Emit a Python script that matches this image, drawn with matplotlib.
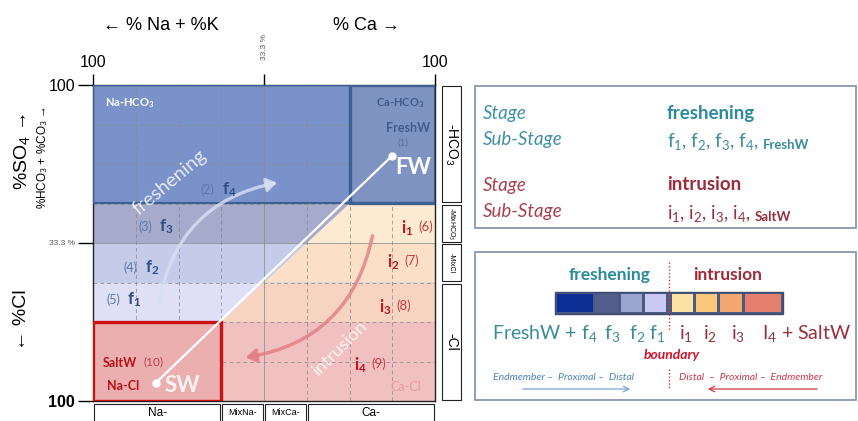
import matplotlib.pyplot as plt
from matplotlib.patches import Rectangle, Polygon, FancyArrowPatch

plt.rcParams['font.family'] = ['Lato', 'DejaVu Sans']
plt.rcParams['mathtext.fontset'] = 'custom'
plt.rcParams['mathtext.rm'] = 'Lato'
plt.rcParams['mathtext.it'] = 'Lato:italic'
plt.rcParams['mathtext.bf'] = 'Lato:bold'

W, H = 858, 421
ARIAL = ['Liberation Sans', 'DejaVu Sans']

# classification of the diagram (in eighths of each side)
band_edges = [0, 2, 3, 4, 5, 8]
band_left = ['#efbdbd', '#dfe0f5', '#c4cce9', '#a6aacb', '#7a92c9']
band_right = ['#f1c1c1', '#f7d3c2', '#fbe0c7', '#fdead2', '#7a92c9']
cation_names = ['Na-', 'MixNa-', 'MixCa-', 'Ca-']
cation_edges = [0, 3, 4, 5, 8]
anion_names = ['-Cl', '-MixCl', '-MixHCO$_3$', '-HCO$_3$']
anion_edges = [0, 3, 4, 5, 8]
anion_size = [10, 5, 5, 10]

sw_point = (1.47, 0.46)
fw_point = (6.99, 6.2)

# sub-stages: letter, index, sample number
fresh_idx = ['1', '2', '3', '4']
fresh_num = ['(5)', '(4)', '(3)', '(2)']
fresh_xy = [(0.80, 2.56), (1.22, 3.37), (1.55, 4.42), (3.02, 5.34)]
intr_idx = ['1', '2', '3', '4']
intr_num = ['(6)', '(7)', '(8)', '(9)']
intr_xy = [(7.2, 4.38), (6.87, 3.52), (6.68, 2.38), (6.1, 0.91)]

# stage colour scale (bottom-right panel)
scale_colors = ['#0b2f95', '#535e8c', '#9ca5cf', '#c9c9f4', '#fde1a4', '#fbc87b', '#f3a772', '#e5806f']
scale_cells = [(557, 593), (595, 618), (621, 642), (645, 666),
               (672, 693), (696, 717), (720, 742), (745, 781)]
scale_labels = ['f$_3$', 'f$_2$', 'f$_1$', 'i$_1$', 'i$_2$', 'i$_3$']
scale_label_x = [612, 637, 657, 686, 710, 738]

TEAL = '#3a8c9c'
WINE = '#98303f'


def boundary_x(y):
    # fresh / salt side of the diagram
    return y + 1


fig = plt.figure(figsize=(W / 100, H / 100), dpi=100)
ax = fig.add_axes([93 / W, 1 - 401 / H, 342 / W, 316 / H])
ax.set_xlim(0, 8)
ax.set_ylim(0, 8)

for i in range(len(band_left)):
    y0, y1 = band_edges[i], band_edges[i + 1]
    ax.add_patch(Rectangle((0, y0), 8, y1 - y0, fc=band_left[i], ec='none', zorder=0))
    if 0 < i < len(band_left) - 1:
        ax.add_patch(Polygon([(boundary_x(y0), y0), (boundary_x(y1), y1), (8, y1), (8, y0)],
                             fc=band_right[i], ec='none', zorder=0))
    elif i == 0:
        ax.add_patch(Rectangle((3, y0), 5, y1 - y0, fc=band_right[i], ec='none', zorder=0))

for k in range(1, 8):
    ls = '-' if k == 4 else (0, (4, 3))
    ax.axvline(k, color='#8a8a8a', lw=0.7, ls=ls, alpha=0.75, zorder=1)
    ax.axhline(k, color='#8a8a8a', lw=0.7, ls=ls, alpha=0.75, zorder=1)

# end-member boxes
ax.add_patch(Rectangle((0, 5), 8, 3, fc='none', ec='#3d6193', lw=1.5, zorder=3))
ax.add_patch(Rectangle((6, 5), 2, 3, fc='#7f93c3', ec='#3d6193', lw=2.4, zorder=3))
ax.add_patch(Rectangle((0, 0), 3, 2, fc='#ebafaf', ec='#cc1111', lw=2.4, zorder=3))

# mixing line SW -> FW
ax.plot([sw_point[0], fw_point[0]], [sw_point[1], fw_point[1]], color='white', lw=1.6, zorder=4)
ax.plot([sw_point[0], fw_point[0]], [sw_point[1], fw_point[1]], 'o', color='white', ms=5, zorder=5)

# evolution arrows
ax.add_patch(FancyArrowPatch((1.53, 2.4), (4.37, 5.54), connectionstyle='arc3,rad=-0.35',
                             arrowstyle='-|>,head_length=6,head_width=4', color='#d6e2f5',
                             lw=2.4, alpha=0.8, zorder=4))
ax.add_patch(FancyArrowPatch((6.55, 4.25), (3.51, 1.09), connectionstyle='arc3,rad=-0.35',
                             arrowstyle='-|>,head_length=6,head_width=4', color='#e27c85',
                             lw=2.5, alpha=0.8, zorder=4))

ax.text(1.8, 5.54, 'freshening', rotation=40, color='white', alpha=0.8, fontsize=14,
        ha='center', va='center', zorder=6)
ax.text(5.78, 1.34, 'intrusion', rotation=45, color='white', alpha=0.8, fontsize=13,
        ha='center', va='center', zorder=6)

ax.text(0.28, 7.54, r'Na-HCO$_\mathbf{3}$', color='white', fontsize=8, fontweight='bold', va='center', zorder=6)
ax.text(7.75, 7.54, r'Ca-HCO$_\mathbf{3}$', color='#3d5d91', fontsize=8, fontweight='bold', ha='right', va='center', zorder=6)
ax.text(7.88, 6.91, 'FreshW', color='#3d5d91', fontsize=9, fontweight='bold', ha='right', va='center', zorder=6)
ax.text(7.26, 6.53, '(1)', color='#5070a0', fontsize=7, ha='center', va='center', zorder=6)
ax.text(7.48, 5.9, 'FW', color='white', fontsize=16, fontweight='bold', ha='center', va='center', zorder=6)
ax.text(0.23, 0.96, 'SaltW', color='#b5121b', fontsize=9, fontweight='bold', va='center', zorder=6)
ax.text(1.17, 0.98, '(10)', color='#c0404a', fontsize=8.5, va='center', zorder=6)
ax.text(0.33, 0.38, 'Na-Cl', color='#b5121b', fontsize=9, fontweight='bold', va='center', zorder=6)
ax.text(2.1, 0.4, 'SW', color='white', alpha=0.85, fontsize=16, fontweight='bold', ha='center', va='center', zorder=6)
ax.text(7.32, 0.35, 'Ca-Cl', color='#e59aa3', fontsize=9, ha='center', va='center', zorder=6)

for idx, num, (x, y) in zip(fresh_idx, fresh_num, fresh_xy):
    ax.text(x, y, r'f$_\mathbf{%s}$' % idx, color='#2f4f86', fontsize=12, fontweight='bold',
            va='center', zorder=6)
    ax.text(x - 0.17, y, num, color='#5b7bab', fontsize=9, ha='right', va='center', zorder=6)
for idx, num, (x, y) in zip(intr_idx, intr_num, intr_xy):
    ax.text(x, y, r'i$_\mathbf{%s}$' % idx, color='#c0151f', fontsize=12, fontweight='bold',
            va='center', zorder=6)
    ax.text(x + 0.42, y + 0.04, num, color='#c63a40', fontsize=9.5, va='center', zorder=6)

# classification boxes outside the square
for i, name in enumerate(anion_names):
    y0, y1 = anion_edges[i], anion_edges[i + 1]
    ax.add_patch(Rectangle((8.16, y0 + 0.03), 0.44, y1 - y0 - 0.06, fc='white', ec='#222222',
                           lw=0.8, clip_on=False))
    ax.text(8.38, (y0 + y1) / 2, name, rotation=-90, fontsize=anion_size[i], family=ARIAL,
            ha='center', va='center', clip_on=False)
for i, name in enumerate(cation_names):
    x0, x1 = cation_edges[i], cation_edges[i + 1]
    ax.add_patch(Rectangle((x0 + 0.02, -0.75), x1 - x0 - 0.04, 0.67, fc='white', ec='#222222',
                           lw=0.8, clip_on=False))
    ax.text((x0 + x1) / 2, -0.3, name, fontsize=8.5 if i in (0, 3) else 6.5, family=ARIAL,
            ha='center', va='center', clip_on=False)

# axes and ticks
for s in ax.spines.values():
    s.set_color('#222222')
    s.set_linewidth(1.0)
ax.set_yticks([0, 4, 8], ['100', '33.3 %', '100'])
ax.tick_params(axis='y', length=11, width=1, pad=2, labelsize=11.5)
ylabs = ax.get_yticklabels()
for t in ylabs:
    t.set_family(ARIAL)
ylabs[0].set_fontweight('bold')
ylabs[1].set_fontsize(6)
ylabs[1].set_color('#555555')
ax.xaxis.tick_top()
ax.set_xticks([0, 4, 8], ['100', '', '100'])
ax.tick_params(axis='x', length=8, width=1, pad=3, labelsize=11.5)
for t in ax.get_xticklabels():
    t.set_family(ARIAL)
ax.annotate('33.3 %', xy=(4, 1), xycoords=('data', 'axes fraction'), xytext=(0, 27),
            textcoords='offset points', rotation=90, fontsize=6, color='#555555',
            family=ARIAL, ha='center', va='center')

# overlay in pixel units for titles and the two side panels
ov = fig.add_axes([0, 0, 1, 1])
ov.set_xlim(0, W)
ov.set_ylim(H, 0)
ov.axis('off')

ov.text(161, 25, '← % Na + %K', fontsize=13, family=ARIAL, ha='center', va='center')
ov.text(366, 25, '% Ca →', fontsize=13, family=ARIAL, ha='center', va='center')
ov.text(22, 151, '%SO$_4$ →', fontsize=14, family=ARIAL, rotation=90, ha='center', va='center')
ov.text(43, 158, '%HCO$_3$ + %CO$_3$ →', fontsize=8.5, family=ARIAL, rotation=90, ha='center', va='center')
ov.text(22, 320, '← %Cl', fontsize=14, family=ARIAL, rotation=90, ha='center', va='center')

# stage panel
ov.add_patch(Rectangle((475, 86), 381, 142, fc='white', ec='#8797ae', lw=1.3))
ov.text(483, 113, 'Stage', style='italic', color='#4190a5', fontsize=13.5, va='center')
ov.text(483, 140, 'Sub-Stage', style='italic', color='#4190a5', fontsize=13.5, va='center')
ov.text(667, 113, 'freshening', fontweight='bold', color='#2b8b9c', fontsize=13.5, va='center')
t1 = ov.text(667, 141, 'f$_1$, f$_2$, f$_3$, f$_4$,', color=TEAL, fontsize=13.5, va='center')
ov.annotate('FreshW', xy=(1, 0.3), xycoords=t1, xytext=(3, 0), textcoords='offset points',
            fontweight='bold', color=TEAL, fontsize=9.5, va='center')
ov.text(483, 185, 'Stage', style='italic', color='#a84050', fontsize=13.5, va='center')
ov.text(483, 212, 'Sub-Stage', style='italic', color='#a84050', fontsize=13.5, va='center')
ov.text(667, 185, 'intrusion', fontweight='bold', color='#9e2a3a', fontsize=13.5, va='center')
t2 = ov.text(667, 213, 'i$_1$, i$_2$, i$_3$, i$_4$,', color=WINE, fontsize=13.5, va='center')
ov.annotate('SaltW', xy=(1, 0.3), xycoords=t2, xytext=(3, 0), textcoords='offset points',
            fontweight='bold', color=WINE, fontsize=9.5, va='center')

# boundary panel
ov.add_patch(Rectangle((475, 252), 381, 148, fc='white', ec='#8797ae', lw=1.3))
ov.text(610, 275, 'freshening', fontweight='bold', color='#2b8b9c', fontsize=12.5, ha='center', va='center')
ov.text(728, 275, 'intrusion', fontweight='bold', color='#9e2a3a', fontsize=12.5, ha='center', va='center')
ov.add_patch(Rectangle((555, 292), 228, 22, fc='#4b5a80', ec='#3d4a70', lw=1))
for c, (x0, x1) in zip(scale_colors, scale_cells):
    ov.add_patch(Rectangle((x0, 294), x1 - x0, 18, fc=c, ec='none'))
ov.plot([669, 669], [262, 330], color='#e03040', lw=1, ls=(0, (1, 1.5)))
ov.plot([669, 669], [369, 388], color='#e03040', lw=1, ls=(0, (1, 1.5)))

ov.text(492, 333, 'FreshW + f$_4$', color=TEAL, fontsize=14, va='center')
for lab, x in zip(scale_labels, scale_label_x):
    ov.text(x, 333, lab, color=TEAL if lab.startswith('f') else WINE, fontsize=14,
            ha='center', va='center')
ov.text(762, 333, 'I$_4$ + SaltW', color=WINE, fontsize=14, va='center')
ov.text(672, 355, 'boundary', fontweight='bold', style='italic', color='#d0142c', fontsize=10,
        ha='center', va='center')
ov.text(493, 377, 'Endmember –  Proximal –  Distal', style='italic', color='#4a84b8',
        fontsize=7.5, va='center')
ov.text(679, 377, 'Distal  –  Proximal –  Endmember', style='italic', color='#c83a48',
        fontsize=7.5, va='center')
ov.add_patch(FancyArrowPatch((520, 389), (633, 389), arrowstyle='->', mutation_scale=10,
                             color='#7aa2d6', lw=0.9))
ov.add_patch(FancyArrowPatch((820, 389), (705, 389), arrowstyle='->', mutation_scale=10,
                             color='#d23a48', lw=0.9))

fig.savefig('out.png', dpi=100)
